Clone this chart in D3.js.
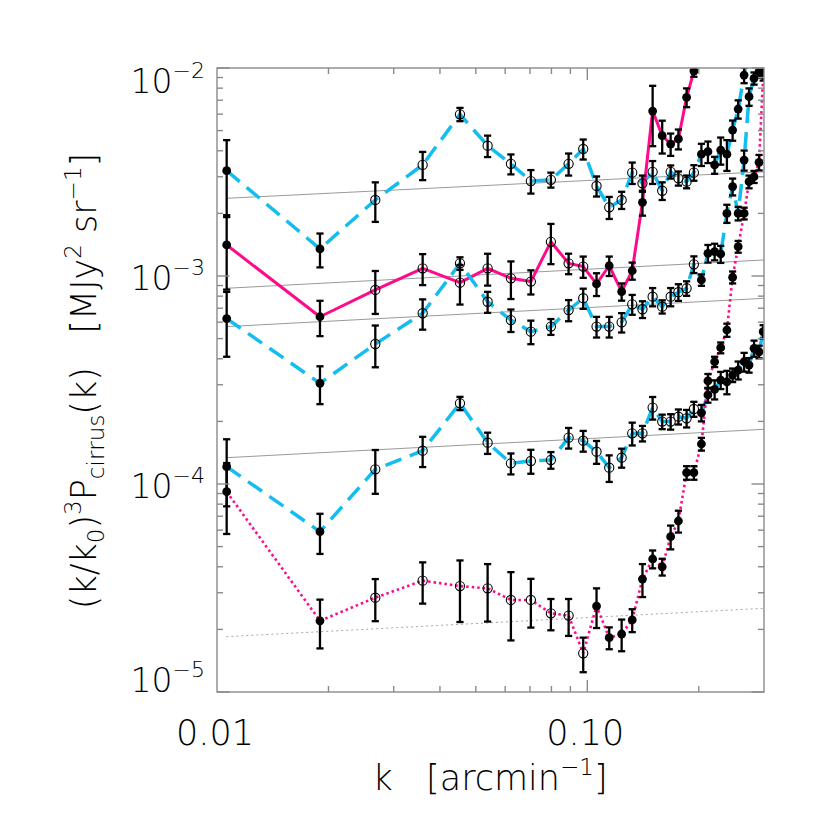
<!DOCTYPE html>
<html><head><meta charset="utf-8">
<script src="https://cdn.jsdelivr.net/npm/d3@7"></script>
<style>body{margin:0;background:#fff}</style>
</head><body>
<svg id="c" width="830" height="830"></svg>
<script>
// k bins [arcmin^-1]
const kBins = [0.01062,0.01897,0.02676,0.03592,0.04530,0.05380,0.06218,0.07040,0.07973,0.08902,
  0.09748,0.1059,0.1146,0.1238,0.1322,0.1409,0.1501,0.1593,0.1679,0.1762,
  0.1854,0.1940,0.2033,0.2117,0.2207,0.2292,0.2382,0.2468,0.2555,0.2651,
  0.2734,0.2820,0.2909,0.2985];

// top cyan dashed
const valA = [3.21e-3,1.35e-3,2.32e-3,3.42e-3,5.99e-3,4.23e-3,3.46e-3,2.86e-3,2.90e-3,3.46e-3,
  4.08e-3,2.71e-3,2.14e-3,2.32e-3,3.14e-3,2.79e-3,3.17e-3,2.57e-3,3.17e-3,2.95e-3,
  2.84e-3,3.14e-3,3.85e-3,3.96e-3,3.42e-3,4.03e-3,3.85e-3,5.03e-3,6.35e-3,9.25e-3,1.3e-2];
const errA = [1.29e-3,0.25e-3,0.50e-3,0.53e-3,0.44e-3,0.50e-3,0.38e-3,0.37e-3,0.24e-3,0.42e-3,
  0.45e-3,0.30e-3,0.26e-3,0.22e-3,0.37e-3,0.25e-3,0.40e-3,0.25e-3,0.23e-3,0.23e-3,
  0.20e-3,0.27e-3,0.47e-3,0.47e-3,0.32e-3,0.60e-3,0.65e-3,0.56e-3,0.64e-3,0.80e-3,1e-3];

// magenta solid
const valB = [1.41e-3,0.637e-3,0.857e-3,1.089e-3,0.929e-3,1.089e-3,0.975e-3,0.94e-3,1.46e-3,1.15e-3,
  1.11e-3,0.916e-3,1.12e-3,0.841e-3,1.06e-3,2.26e-3,6.21e-3,4.73e-3,4.31e-3,4.56e-3,
  7.23e-3,9.67e-3,1.6e-2];
const errB = [0.55e-3,0.123e-3,0.20e-3,0.185e-3,0.20e-3,0.19e-3,0.20e-3,0.125e-3,0.32e-3,0.13e-3,
  0.13e-3,0.115e-3,0.12e-3,0.08e-3,0.10e-3,0.31e-3,2.0e-3,0.85e-3,0.53e-3,0.50e-3,
  0.75e-3,0.60e-3,1e-3];

// middle cyan dashed
const valC = [0.624e-3,0.305e-3,0.471e-3,0.662e-3,1.15e-3,0.752e-3,0.614e-3,0.540e-3,0.571e-3,0.686e-3,
  0.782e-3,0.571e-3,0.571e-3,0.599e-3,0.731e-3,0.692e-3,0.795e-3,0.712e-3,0.795e-3,0.836e-3,
  0.873e-3,1.138e-3,0.957e-3,1.285e-3,1.309e-3,1.276e-3,2.00e-3,2.69e-3,2.00e-3,3.61e-3,
  7.28e-3,8.92e-3,9.6e-3,1.3e-2];
const errC = [0.215e-3,0.063e-3,0.107e-3,0.11e-3,0.08e-3,0.087e-3,0.076e-3,0.07e-3,0.05e-3,0.08e-3,
  0.087e-3,0.065e-3,0.065e-3,0.064e-3,0.08e-3,0.064e-3,0.08e-3,0.052e-3,0.08e-3,0.077e-3,
  0.07e-3,0.105e-3,0.06e-3,0.125e-3,0.12e-3,0.12e-3,0.2e-3,0.25e-3,0.15e-3,0.4e-3,
  0.7e-3,0.6e-3,0.6e-3,1e-3];

// lower cyan dashed
const valD = [1.211e-4,0.59e-4,1.177e-4,1.446e-4,2.444e-4,1.58e-4,1.257e-4,1.29e-4,1.304e-4,1.67e-4,
  1.615e-4,1.43e-4,1.198e-4,1.338e-4,1.752e-4,1.752e-4,2.33e-4,1.995e-4,1.995e-4,2.107e-4,
  2.07e-4,2.294e-4,2.20e-4,2.68e-4,2.85e-4,3.16e-4,3.10e-4,3.34e-4,3.53e-4,3.87e-4,
  3.73e-4,4.49e-4,4.32e-4,5.40e-4];
const errD = [0.43e-4,0.129e-4,0.28e-4,0.24e-4,0.18e-4,0.185e-4,0.145e-4,0.17e-4,0.12e-4,0.19e-4,
  0.185e-4,0.18e-4,0.175e-4,0.14e-4,0.22e-4,0.15e-4,0.29e-4,0.16e-4,0.17e-4,0.175e-4,
  0.2e-4,0.19e-4,0.2e-4,0.22e-4,0.3e-4,0.3e-4,0.4e-4,0.25e-4,0.35e-4,0.4e-4,
  0.3e-4,0.4e-4,0.3e-4,0.4e-4];

// magenta dotted
const valE = [9.18e-5,2.20e-5,2.84e-5,3.43e-5,3.23e-5,3.15e-5,2.77e-5,2.77e-5,2.39e-5,2.33e-5,
  1.535e-5,2.59e-5,1.825e-5,1.90e-5,2.22e-5,3.49e-5,4.36e-5,4.00e-5,5.58e-5,6.64e-5,
  11.33e-5,11.33e-5,15.57e-5,31.3e-5,38.7e-5,45.2e-5,55.0e-5,98.6e-5,138.4e-5,200e-5,
  284e-5,300e-5,352e-5,930e-5];
const errE = [3.43e-5,0.58e-5,0.65e-5,0.77e-5,1.06e-5,0.97e-5,1.0e-5,0.73e-5,0.41e-5,0.47e-5,
  0.29e-5,0.56e-5,0.22e-5,0.33e-5,0.28e-5,0.63e-5,0.43e-5,0.37e-5,0.73e-5,0.80e-5,
  0.85e-5,0.85e-5,1.1e-5,2.5e-5,2.2e-5,2.7e-5,4.0e-5,6.5e-5,9.0e-5,13e-5,
  20e-5,20e-5,30e-5,60e-5];

// index ranges drawn with open symbols
const openA = [2,21], openB = [2,10], openC = [2,21], openD = [2,21], openE = [2,10];

// power-law reference lines: [k start, value start, k end, value end]
const fitLines = [
  [0.0106,2.363e-3,0.3,3.17e-3],
  [0.0106,8.73e-4,0.3,1.194e-3],
  [0.0106,5.71e-4,0.3,7.81e-4],
  [0.0106,1.338e-4,0.3,1.832e-4]];
const fitDotted = [0.0106,1.845e-5,0.3,2.526e-5];

const yTickExps = [-2,-3,-4,-5];
const xTickValues = [0.01,0.1];
const xTickLabels = ["0.01","0.10"];

const L=217,R=764,T=68,B=692;
const FONT = "'DejaVu Sans', sans-serif";
const MAG = "#ff0a8a", CYAN = "#14bdf0";
const x = d3.scaleLog().domain([0.01,0.3]).range([L,R]);
const y = d3.scaleLog().domain([1e-5,1e-2]).range([B,T]);

const svg = d3.select("#c");
svg.append("rect").attr("width",830).attr("height",830).attr("fill","#fff");
svg.append("clipPath").attr("id","pc").append("rect")
  .attr("x",L).attr("y",T).attr("width",R-L).attr("height",B-T);
const g = svg.append("g").attr("clip-path","url(#pc)");

// fit lines
fitLines.forEach(f=>{
  g.append("line").attr("x1",x(f[0])).attr("y1",y(f[1])).attr("x2",x(f[2])).attr("y2",y(f[3]))
   .attr("stroke","#9a9a9a").attr("stroke-width",1);
});
g.append("line").attr("x1",x(fitDotted[0])).attr("y1",y(fitDotted[1]))
  .attr("x2",x(fitDotted[2])).attr("y2",y(fitDotted[3]))
  .attr("stroke","#a8a8a8").attr("stroke-width",1).attr("stroke-dasharray","2,3");

const series = [
  {v:valA,e:errA,open:openA,color:CYAN,dash:"17,9",w:3.5},
  {v:valB,e:errB,open:openB,color:MAG,dash:null,w:3},
  {v:valC,e:errC,open:openC,color:CYAN,dash:"17,9",w:3.5},
  {v:valD,e:errD,open:openD,color:CYAN,dash:"17,9",w:3.5},
  {v:valE,e:errE,open:openE,color:MAG,dash:"2.5,3",w:2.6}
];
const line = d3.line().x(d=>x(d.k)).y(d=>y(d.v));
series.forEach(s=>{
  const pts = s.v.map((v,i)=>({k:kBins[i],v:v}));
  const p = g.append("path").attr("d",line(pts)).attr("fill","none")
    .attr("stroke",s.color).attr("stroke-width",s.w).attr("stroke-linejoin","round");
  if(s.dash) p.attr("stroke-dasharray",s.dash);
});
series.forEach(s=>{
  s.v.forEach((v,i)=>{
    const cx = x(kBins[i]);
    const lo = Math.max(v - s.e[i], 1e-7), hi = v + s.e[i];
    const y1 = y(hi), y2 = y(lo);
    g.append("line").attr("x1",cx).attr("x2",cx).attr("y1",y1).attr("y2",y2)
      .attr("stroke","#000").attr("stroke-width",2.3);
    [y1,y2].forEach(yy=>g.append("line").attr("x1",cx-3.6).attr("x2",cx+3.6)
      .attr("y1",yy).attr("y2",yy).attr("stroke","#000").attr("stroke-width",2.3));
  });
  s.v.forEach((v,i)=>{
    const isOpen = i>=s.open[0] && i<=s.open[1];
    const c = g.append("circle").attr("cx",x(kBins[i])).attr("cy",y(v));
    if(isOpen) c.attr("r",4.6).attr("fill","none").attr("stroke","#000").attr("stroke-width",1.1);
    else c.attr("r",4.4).attr("fill","#000");
  });
});

// frame & ticks
const ax = svg.append("g").attr("stroke","#8a8a8a").attr("stroke-width",1.4).attr("fill","none");
ax.append("rect").attr("x",L).attr("y",T).attr("width",R-L).attr("height",B-T);
const yTicksAll = [];
for(let e=-5;e<-2;e++) for(let m=1;m<10;m++) yTicksAll.push({v:m*Math.pow(10,e),major:m===1});
yTicksAll.push({v:1e-2,major:true});
yTicksAll.forEach(t=>{
  const yy=y(t.v), len=t.major?12.5:6;
  ax.append("line").attr("x1",L).attr("x2",L+len).attr("y1",yy).attr("y2",yy);
  ax.append("line").attr("x1",R).attr("x2",R-len).attr("y1",yy).attr("y2",yy);
});
const xTicksAll = [];
for(let m=2;m<=9;m++) xTicksAll.push({v:m*0.01,major:false});
xTicksAll.push({v:0.1,major:true});
xTicksAll.push({v:0.2,major:false});
xTicksAll.forEach(t=>{
  const xx=x(t.v), len=t.major?12:6;
  ax.append("line").attr("x1",xx).attr("x2",xx).attr("y1",B).attr("y2",B-len);
  ax.append("line").attr("x1",xx).attr("x2",xx).attr("y1",T).attr("y2",T+len);
});

// y tick labels
yTickExps.forEach(ex=>{
  const ty = y(Math.pow(10,ex));
  const base = Math.min(Math.max(ty+14, T+25), B);
  const t = svg.append("text").attr("x",205).attr("y",base).attr("text-anchor","end")
    .attr("font-family",FONT).attr("font-weight",200).attr("font-size",33).attr("fill","#000");
  t.append("tspan").text("10");
  t.append("tspan").attr("dy",-15).attr("font-size",22).text("\u2212"+Math.abs(ex));
});
// x tick labels
xTickValues.forEach((v,i)=>{
  svg.append("text").attr("x",x(v)-2).attr("y",745).attr("text-anchor","middle")
    .attr("font-family",FONT).attr("font-weight",200).attr("font-size",35).attr("fill","#000")
    .text(xTickLabels[i]);
});
// x title
const xt = svg.append("text").attr("x",490).attr("y",790).attr("text-anchor","middle")
  .attr("font-family",FONT).attr("font-weight",200).attr("font-size",35).attr("fill","#000")
  .attr("xml:space","preserve");
xt.append("tspan").text("k   [arcmin");
xt.append("tspan").attr("dy",-15).attr("font-size",23).text("\u22121");
xt.append("tspan").attr("dy",15).text("]");
// y title
const yt = svg.append("text").attr("transform","translate(96,381) rotate(-90)")
  .attr("text-anchor","middle").attr("font-family",FONT).attr("font-weight",200)
  .attr("font-size",35).attr("fill","#000").attr("xml:space","preserve");
yt.append("tspan").text("(k/k");
yt.append("tspan").attr("dy",8).attr("font-size",23).text("0");
yt.append("tspan").attr("dy",-8).text(")");
yt.append("tspan").attr("dy",-15).attr("font-size",23).text("3");
yt.append("tspan").attr("dy",15).text("P");
yt.append("tspan").attr("dy",8).attr("font-size",23).text("cirrus");
yt.append("tspan").attr("dy",-8).text("(k)   [MJy");
yt.append("tspan").attr("dy",-15).attr("font-size",23).text("2");
yt.append("tspan").attr("dy",15).text(" sr");
yt.append("tspan").attr("dy",-15).attr("font-size",23).text("\u22121");
yt.append("tspan").attr("dy",15).text("]");
</script>
</body></html>
